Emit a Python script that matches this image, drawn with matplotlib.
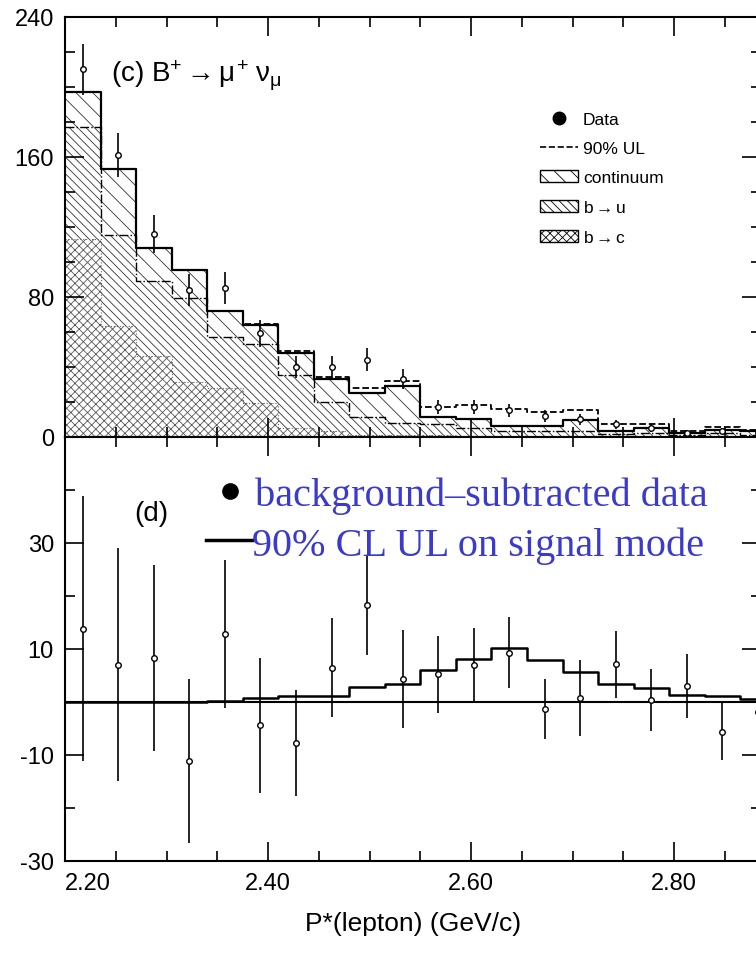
import numpy as np
import matplotlib.pyplot as plt
from matplotlib.lines import Line2D
from matplotlib.patches import Patch

plt.rcParams['font.family'] = ['Liberation Sans', 'DejaVu Sans']
plt.rcParams['hatch.linewidth'] = 0.6
plt.rcParams['axes.unicode_minus'] = False
plt.rcParams['mathtext.fontset'] = 'custom'
plt.rcParams['mathtext.rm'] = 'Liberation Sans'
plt.rcParams['mathtext.it'] = 'Liberation Sans'

# bins: 20 bins of width 0.035 GeV/c starting at 2.20
bin_w = 0.035
edges = 2.20 + bin_w * np.arange(21)
centers = edges[:-1] + bin_w / 2

# panel (c): data and stacked backgrounds
data_c = [210, 161, 116, 84, 85, 59, 40, 40, 44, 33, 17, 17, 15, 12, 10, 7, 5, 2, 3, 2]
bc = [113, 63, 46, 31, 28, 19, 5, 3, 1, 1, 1, 0.5, 0.5, 0.5, 0.5, 0.3, 0.3, 0.2, 0.2, 0.2]
bc_bu = [177, 115, 89, 79, 57, 53, 35, 20, 11, 8, 7, 5, 3, 3, 3, 1.5, 2, 1, 2, 1]
total = [197, 153, 108, 95, 72, 64, 48, 33, 25, 29, 11, 10, 6, 6, 9.5, 3, 5, 2, 4, 3]
ul90 = [197, 153, 108, 95, 72, 64.5, 49, 34, 28, 32, 17, 18, 16, 14, 15, 7.5, 7.5, 3.5, 5.5, 4]

# panel (d): background-subtracted data and UL on signal
data_d = [13.8, 7.0, 8.3, -11.1, 12.8, -4.4, -7.7, 6.5, 18.3, 4.3,
          5.2, 7.0, 9.3, -1.3, 0.8, 7.1, 0.4, 3.0, -5.6, -1.8]
err_d = [25, 22, 17.6, 15.5, 14, 12.7, 10, 9.4, 9.5, 9.3,
         7.3, 6.9, 6.7, 5.6, 7.2, 6.3, 5.9, 6.1, 5.4, 5.4]
signal = [0, 0, 0, 0, 0.1, 0.8, 1.1, 1.1, 2.9, 3.4,
          6.0, 8.1, 10.2, 7.9, 5.7, 3.4, 2.7, 1.4, 1.2, 0.6]


def step_vals(v):
    return np.append(v, v[-1])


fig = plt.figure(figsize=(7.56, 9.62), dpi=100)
ax1 = fig.add_axes([0.086, 0.545, 0.92, 0.4366])
ax2 = fig.add_axes([0.086, 0.104, 0.92, 0.4407])

bc_a, bcbu_a, tot_a = np.array(bc), np.array(bc_bu), np.array(total)
ax1.bar(centers, bc_a, bin_w, color='white', edgecolor='0.35', hatch='xxxx', lw=0)
ax1.bar(centers, bcbu_a - bc_a, bin_w, bottom=bc_a, color='white',
        edgecolor='0.2', hatch='\\\\\\\\', lw=0)
ax1.bar(centers, tot_a - bcbu_a, bin_w, bottom=bcbu_a, color='white',
        edgecolor='0.2', hatch='\\\\', lw=0)
ax1.step(edges, step_vals(bc), where='post', color='0.4', lw=0.8, ls=':')
ax1.step(edges, step_vals(bc_bu), where='post', color='k', lw=1, ls='-.')
ax1.step(edges, step_vals(total), where='post', color='k', lw=1.6)
ax1.step(edges, step_vals(ul90), where='post', color='k', lw=1.3, ls='--')
err_c = np.sqrt(data_c)
ax1.errorbar(centers, data_c, yerr=err_c, fmt='o', ms=4, mfc='white', mec='k',
             ecolor='k', elinewidth=1.2, capsize=0)

ax1.set_ylim(0, 240)
ax1.set_yticks([0, 80, 160, 240])
ax1.set_yticks(np.arange(0, 241, 20), minor=True)
ax1.text(2.245, 203, r'(c) B$^{+}\rightarrow\mu^{+}\ \nu_{\mu}$', fontsize=20)

handles = [Line2D([], [], marker='o', ls='', color='k', ms=9),
           Line2D([], [], color='k', ls='--', lw=1.2),
           Patch(facecolor='white', edgecolor='k', hatch='\\\\'),
           Patch(facecolor='white', edgecolor='k', hatch='\\\\\\\\'),
           Patch(facecolor='white', edgecolor='k', hatch='xxxx')]
labels = ['Data', '90% UL', 'continuum', r'b$\rightarrow$u', r'b$\rightarrow$c']
ax1.legend(handles, labels, loc='upper left', bbox_to_anchor=(0.66, 0.81),
           frameon=False, fontsize=12.5, handlelength=2.2, labelspacing=0.8,
           handletextpad=0.3)

ax2.axhline(0, color='k', lw=1.5)
ax2.step(edges, step_vals(signal), where='post', color='k', lw=1.8)
ax2.errorbar(centers, data_d, yerr=err_d, fmt='o', ms=4, mfc='white', mec='k',
             ecolor='k', elinewidth=1.2, capsize=0)
ax2.set_ylim(-30, 50)
ax2.set_yticks([-30, -10, 10, 30])
ax2.set_yticks(np.arange(-30, 51, 10), minor=True)
ax2.text(2.268, 35.7, '(d)', fontsize=20, va='center')
blue = '#3a3acc'
ax2.plot([2.362], [39.8], 'o', color='k', ms=11)
ax2.plot([2.339, 2.384], [30.5, 30.5], color='k', lw=2.5)
ax2.text(2.387, 39.0, 'background\u2013subtracted data', color=blue, va='center',
         family='Liberation Serif', fontsize=29)
ax2.text(2.384, 29.6, '90% CL UL on signal mode', color=blue, va='center',
         family='Liberation Serif', fontsize=29)
ax2.set_xlabel('P*(lepton) (GeV/c)', fontsize=19, labelpad=12)

for ax in (ax1, ax2):
    ax.set_xlim(2.20, 2.885)
    ax.set_xticks([2.2, 2.4, 2.6, 2.8])
    ax.set_xticks(np.arange(2.2, 2.89, 0.05), minor=True)
    ax.tick_params(which='both', direction='in', top=True, right=True,
                   labelsize=17, width=1.2)
    ax.tick_params(which='major', length=14, pad=8)
    ax.tick_params(which='minor', length=7)
    for s in ax.spines.values():
        s.set_linewidth(1.5)
ax1.tick_params(labelbottom=False)
ax2.set_xticklabels(['2.20', '2.40', '2.60', '2.80'])
ax2.get_xticklabels()[0].set_horizontalalignment('left')

fig.savefig('out.png', dpi=100)
